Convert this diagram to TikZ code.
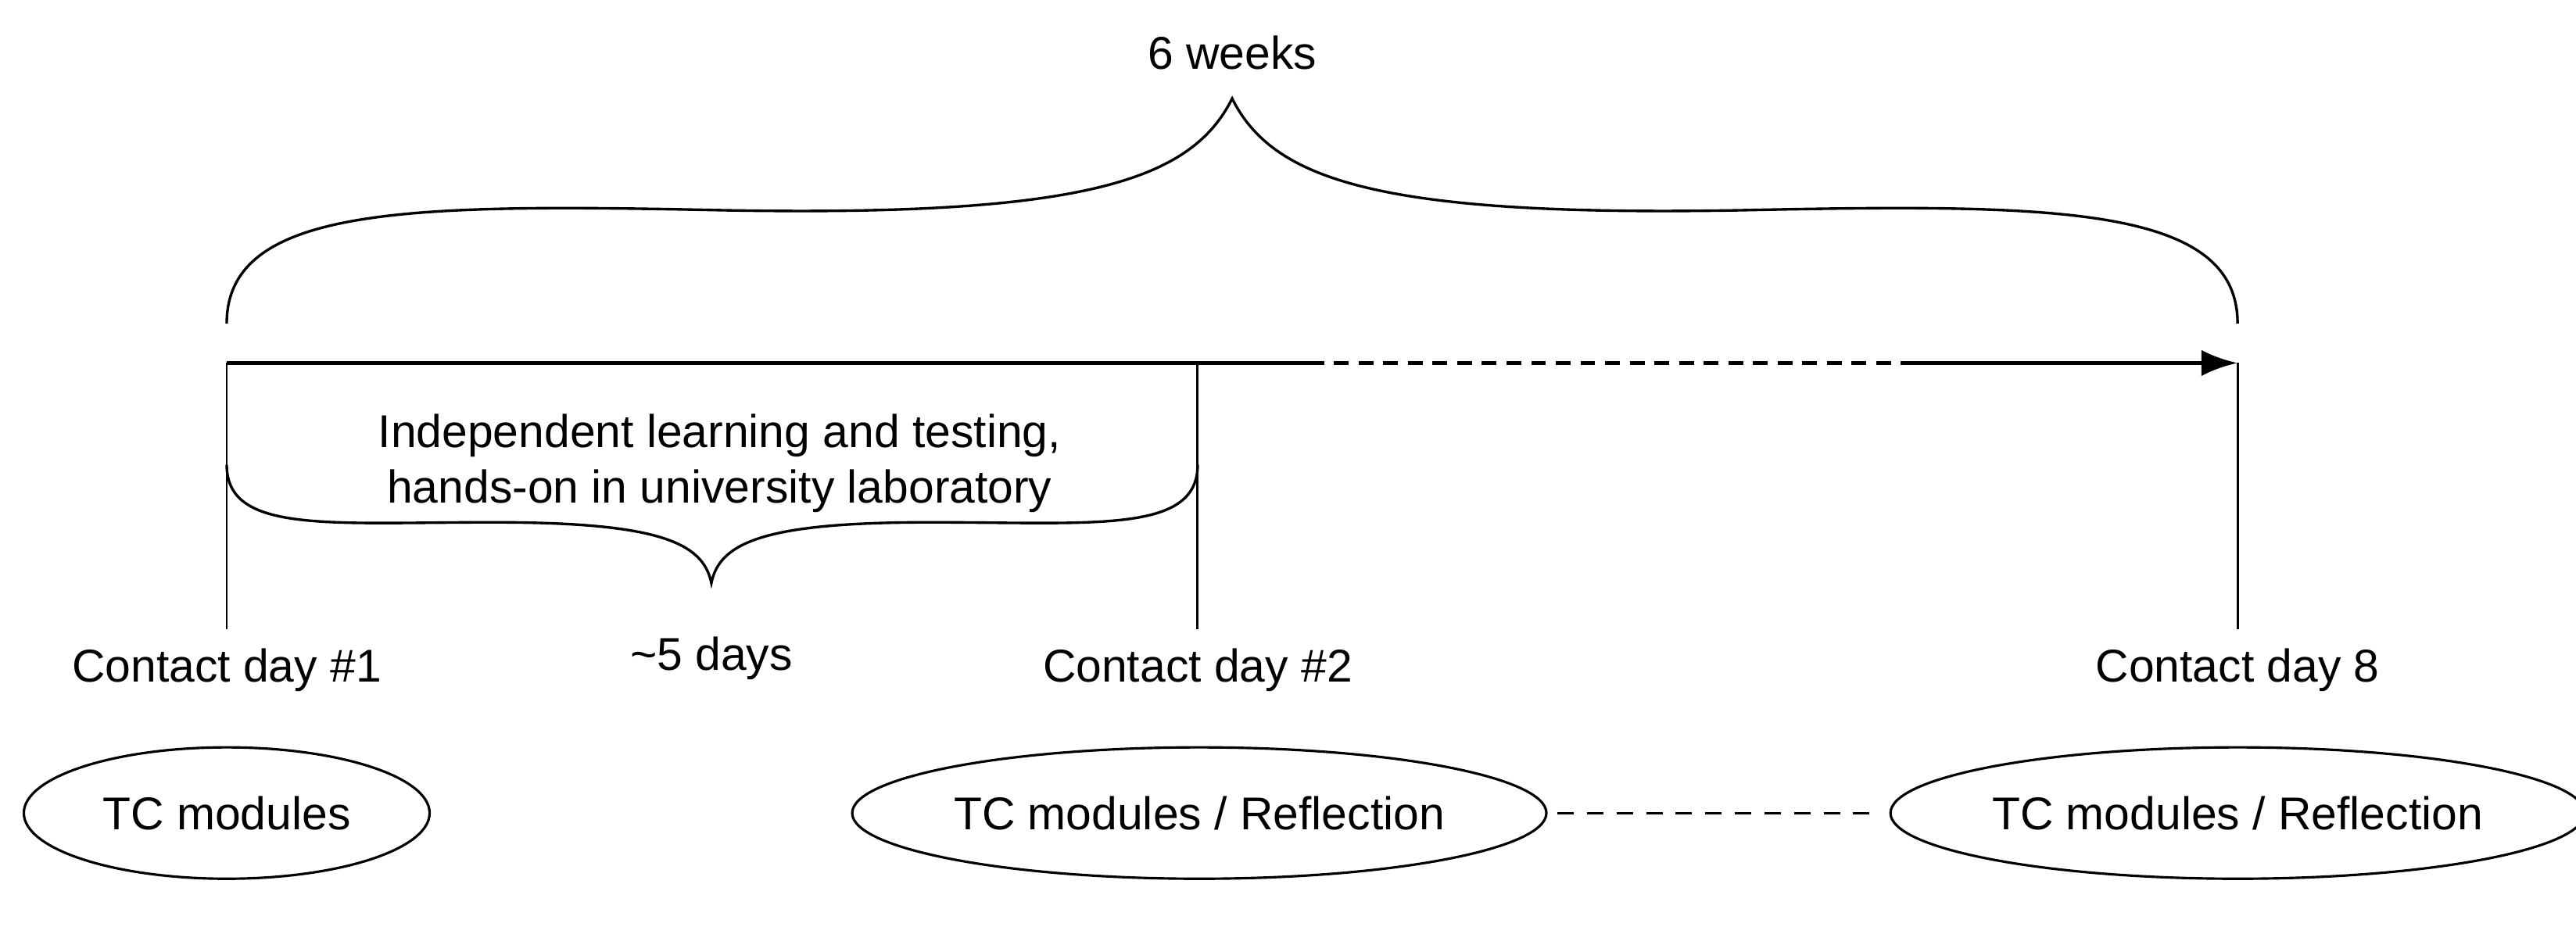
\documentclass[tikz,border=0pt]{standalone}
\usepackage{fontspec}
\setmainfont{Liberation Sans}
\usetikzlibrary{arrows.meta,shapes.geometric}
\begin{document}
\begin{tikzpicture}[x=1pt,y=-1pt,
  txt/.style={font=\fontsize{28}{34}\selectfont, inner sep=0pt},
  ell/.style={draw, ellipse, line width=1.5pt},
  thin/.style={line width=1.4pt},
  brace/.style={line width=1.6pt}]
\useasboundingbox (0,0) rectangle (1568,564);
% coordinates
\coordinate (s) at (138,221);
\coordinate (m) at (729,221);
\coordinate (e) at (1362,221);
\coordinate (d1) at (797,221);
\coordinate (d2) at (1157,221);
\coordinate (b1) at (138,383);
\coordinate (b2) at (729,383);
\coordinate (b3) at (1362,383);
\coordinate (q1) at (948,495);
\coordinate (q2) at (1140,495);
% top brace
\draw[brace] (138,197) .. controls (138,125) and (250,124) .. (440,128)
  .. controls (660,132) and (725,110) .. (750,60)
  .. controls (775,110) and (840,132) .. (1060,128)
  .. controls (1250,124) and (1362,125) .. (1362,197);
\node[txt] (w) at (750,32) {6 weeks};
% main arrow
\draw[line width=2.6pt] (s) -- (d1);
\draw[line width=2.6pt, dash pattern=on 9pt off 6pt] (d1) -- (d2);
\draw[line width=2.6pt, -{Latex[length=22pt,width=16pt]}] (d2) -- (e);
% verticals
\draw[thin] (s) -- (b1);
\draw[thin] (m) -- (b2);
\draw[thin] (e) -- (b3);
% lower brace
\draw[brace] (138,283) .. controls (138,325) and (200,318) .. (300,318)
  .. controls (400,318) and (428,330) .. (433,355)
  .. controls (438,330) and (466,318) .. (566,318)
  .. controls (666,318) and (729,325) .. (729,283);
\node[txt, align=center] (il) at (438,282) {Independent learning and testing,\\hands-on in university laboratory};
\node[txt] (fd) at (433,401) {\textasciitilde5 days};
% labels
\node[txt] (c1) at (138,408) {Contact day \#1};
\node[txt] (c2) at (729,408) {Contact day \#2};
\node[txt] (c8) at (1362,408) {Contact day 8};
% ellipses
\node[ell, minimum width=247pt, minimum height=80pt, txt] (e1) at (138,495) {TC modules};
\node[ell, minimum width=384pt, minimum height=80pt, txt] (e2) at (730,495) {TC modules / Reflection};
\node[ell, minimum width=387pt, minimum height=80pt, txt] (e3) at (1362,495) {TC modules / Reflection};
\draw[thin, dash pattern=on 10pt off 8pt] (q1) -- (q2);
\end{tikzpicture}
\end{document}
